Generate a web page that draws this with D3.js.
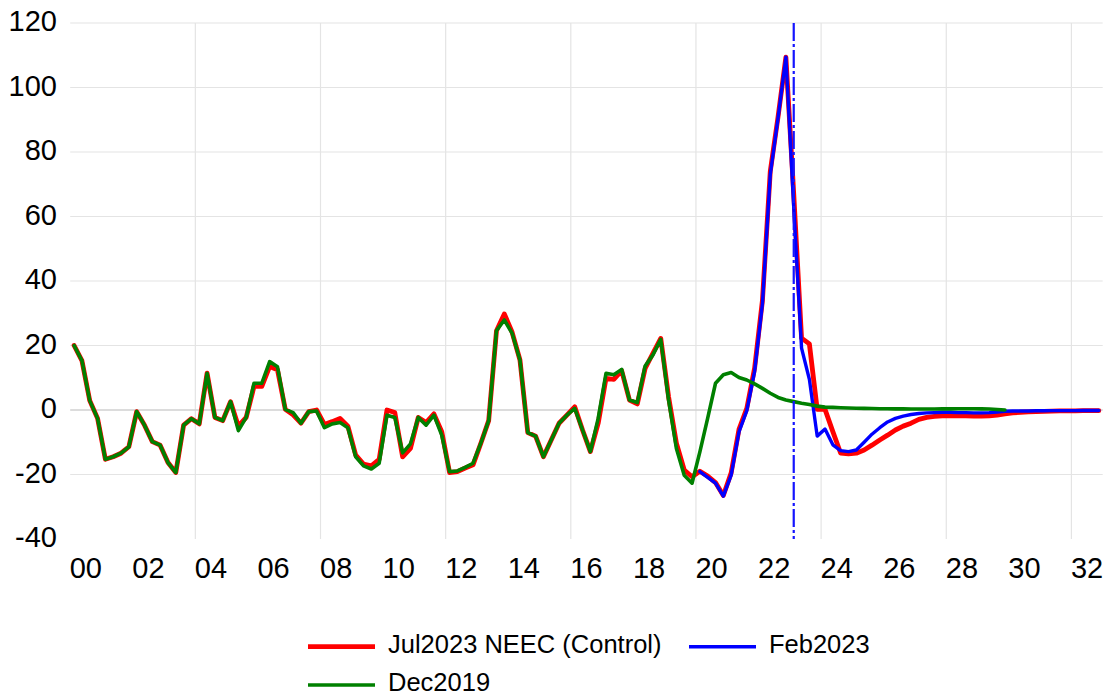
<!DOCTYPE html>
<html>
<head>
<meta charset="utf-8">
<script src="https://cdn.jsdelivr.net/npm/d3@7"></script>
<style>
  html, body { margin: 0; padding: 0; background: #fff; }
  svg { display: block; font-family: "Liberation Sans", Arial, sans-serif; }
</style>
</head>
<body>
<script>
// quarterly categories 2000Q1 .. 2032Q4
const years = d3.range(2000, 2033);
const quarters = years.flatMap(y => [1, 2, 3, 4].map(q => `${y}Q${q}`));

const xTickLabels = ['00', '02', '04', '06', '08', '10', '12', '14', '16',
  '18', '20', '22', '24', '26', '28', '30', '32'];
const yTicks = [-40, -20, 0, 20, 40, 60, 80, 100, 120];
const forecastStart = '2023Q1';

// Jul2023 NEEC (Control), 2000Q1 .. 2032Q4
const control = [
  20, 15.3, 2.9, -2.6, -15.3, -14.5, -13.4, -11.4, -0.5, -4.7,
  -9.8, -10.9, -16.3, -19.4, -4.7, -2.7, -4.3, 11.4, -2.3, -3.3,
  2.6, -5, -2.3, 7.3, 7.3, 13.5, 12.5, 0.2, -1.5, -4.1,
  -0.5, 0, -4.5, -3.6, -2.6, -5, -14, -16.8, -17.3, -15.3,
  0, -0.8, -14.5, -11.9, -2.3, -3.9, -1.2, -6.7, -19.4, -19.1,
  -18, -17, -10.3, -3.3, 24.6, 29.8, 24.1, 15.5, -7.0, -8.1,
  -14.5, -9.3, -4.1, -1.6, 1.0, -6.2, -12.9, -4.1, 9.8, 9.5,
  12.2, 3.1, 1.9, 12.9, 17.6, 22.2, 4.1, -10.3, -18.6, -20.7,
  -19, -20.5, -22.5, -26.5, -19.5, -6, 0.5, 13, 34, 74,
  91, 109.4, 67, 22.3, 20.5, 0.2, 0.2, -6.7, -13.4, -13.6,
  -13.4, -12.4, -10.9, -9.3, -7.8, -6.2, -5.0, -4.1, -2.9, -2.3,
  -2.0, -1.8, -1.8, -1.8, -1.8, -1.9, -1.9, -1.8, -1.6, -1.2,
  -0.9, -0.7, -0.6, -0.5, -0.4, -0.35, -0.3, -0.3, -0.25, -0.2,
  -0.2, -0.2
];

// Feb2023, starts 2020Q1
const feb2023Start = '2020Q1';
const feb2023 = [
  -19.1, -20.9, -22.7, -26.7, -20.2, -6.8, -0.2, 12, 33, 73,
  90.6, 109.4, 63, 19.2, 9.5, -8.1, -5.9, -10.8, -12.6, -12.9,
  -12.4, -10, -7.5, -5.5, -3.7, -2.6, -1.9, -1.4, -1.1, -0.9,
  -0.8, -0.7, -0.7, -0.8, -0.8, -0.9, -0.9, -0.8, -0.6, -0.4,
  -0.3, -0.3, -0.3, -0.25, -0.25, -0.2, -0.2, -0.2, -0.2, -0.15,
  -0.15, -0.15
];

// Dec2019, 2000Q1 .. 2029Q4
const dec2019 = [
  20, 15.3, 2.9, -2.6, -15.3, -14.5, -13.4, -11.4, -0.5, -4.7,
  -9.8, -10.9, -16.3, -19.4, -4.7, -2.7, -4.3, 11.4, -2.3, -3.3,
  2.6, -6.4, -2.3, 8.3, 8.3, 15.0, 13.4, 0.2, -0.8, -4.1,
  -0.5, -0.3, -5.5, -4.3, -3.9, -5.5, -14.5, -17.3, -18.3, -16.5,
  -1.6, -2.3, -13.3, -10.5, -2.3, -4.7, -1.6, -7.8, -19.1, -18.9,
  -17.8, -16.5, -10.3, -3.3, 24.6, 27.9, 23.8, 15.5, -7.0, -8.1,
  -14.5, -9.3, -4.1, -1.6, 0.5, -6.2, -12.9, -2.6, 11.4, 10.9,
  12.6, 3.1, 2.3, 13.6, 17.1, 21.9, 3.1, -11.9, -20.2, -22.7,
  -13, -2.5, 8.3, 10.9, 11.6, 10.1, 9.3, 8.1, 6.7, 5.2,
  3.9, 3.1, 2.6, 2.1, 1.7, 1.2, 0.9, 0.8, 0.7, 0.6,
  0.55, 0.5, 0.45, 0.4, 0.4, 0.35, 0.35, 0.3, 0.3, 0.3,
  0.3, 0.35, 0.35, 0.4, 0.4, 0.4, 0.35, 0.3, 0.15, 0.0
];

const W = 1110, H = 698;
const plot = { left: 70.2, right: 1102.7, top: 23, bottom: 539 };

const svg = d3.select('body').append('svg')
  .attr('width', W).attr('height', H)
  .attr('viewBox', `0 0 ${W} ${H}`);
svg.append('rect').attr('width', W).attr('height', H).attr('fill', '#ffffff');

const x = d3.scaleBand().domain(quarters).range([plot.left, plot.right]).padding(0);
const y = d3.scaleLinear().domain([-40, 120]).range([plot.bottom, plot.top]);
const step = x.step();
const cx = c => x(c) + step / 2;

// horizontal gridlines
svg.append('g').selectAll('line')
  .data(yTicks.filter(v => v > -40 && v !== 0))
  .join('line')
  .attr('x1', plot.left).attr('x2', plot.right)
  .attr('y1', d => y(d)).attr('y2', d => y(d))
  .attr('stroke', '#e4e4e4').attr('stroke-width', 1.2);

// vertical gridlines every 16 quarters
const vGrid = quarters.filter((q, i) => i > 0 && i % 16 === 0);
svg.append('g').selectAll('line')
  .data(vGrid)
  .join('line')
  .attr('x1', d => x(d)).attr('x2', d => x(d))
  .attr('y1', plot.top).attr('y2', plot.bottom)
  .attr('stroke', '#e4e4e4').attr('stroke-width', 1.2);

// zero axis line
svg.append('line')
  .attr('x1', plot.left).attr('x2', plot.right)
  .attr('y1', y(0)).attr('y2', y(0))
  .attr('stroke', '#d0d0d0').attr('stroke-width', 1.6);

// y tick labels
svg.append('g').selectAll('text')
  .data(yTicks)
  .join('text')
  .attr('x', 57).attr('y', d => y(d) - 2)
  .attr('dy', '0.36em')
  .attr('text-anchor', 'end')
  .attr('font-size', 29).attr('fill', '#000')
  .text(d => d);

// x tick labels, one per 8 quarters
svg.append('g').selectAll('text')
  .data(xTickLabels)
  .join('text')
  .attr('x', (d, j) => x(quarters[j * 8]) + 2 * step)
  .attr('y', 578)
  .attr('text-anchor', 'middle')
  .attr('font-size', 29).attr('fill', '#000')
  .text(d => d);

function seriesPoints(values, start) {
  const i0 = quarters.indexOf(start);
  return values.map((v, k) => ({ q: quarters[i0 + k], v }));
}

const line = d3.line().x(d => cx(d.q)).y(d => y(d.v));

const series = [
  { name: 'Jul2023 NEEC (Control)', pts: seriesPoints(control, '2000Q1'), color: '#ff0000', width: 4.8 },
  { name: 'Feb2023', pts: seriesPoints(feb2023, feb2023Start), color: '#0000ff', width: 3.4 },
  { name: 'Dec2019', pts: seriesPoints(dec2019, '2000Q1'), color: '#008000', width: 3.6 }
];

svg.append('g').selectAll('path')
  .data(series)
  .join('path')
  .attr('d', d => line(d.pts))
  .attr('fill', 'none')
  .attr('stroke', d => d.color)
  .attr('stroke-width', d => d.width)
  .attr('stroke-linejoin', 'round')
  .attr('stroke-linecap', 'round');

// forecast start marker
svg.append('line')
  .attr('x1', cx(forecastStart)).attr('x2', cx(forecastStart))
  .attr('y1', plot.top).attr('y2', plot.bottom)
  .attr('stroke', '#1414ff').attr('stroke-width', 2.2)
  .attr('stroke-dasharray', '18,3,3,3');

// legend
const legend = [
  { s: series[0], lx: 308, ly: 646.7, base: 653.3 },
  { s: series[1], lx: 689, ly: 646.7, base: 653.3 },
  { s: series[2], lx: 308, ly: 685, base: 691 }
];
const lg = svg.append('g').selectAll('g').data(legend).join('g');
lg.append('line')
  .attr('x1', d => d.lx).attr('x2', d => d.lx + 67)
  .attr('y1', d => d.ly).attr('y2', d => d.ly)
  .attr('stroke', d => d.s.color)
  .attr('stroke-width', d => d.s.width);
lg.append('text')
  .attr('x', d => d.lx + 80).attr('y', d => d.base)
  .attr('font-size', 25.5).attr('fill', '#000')
  .text(d => d.s.name);
</script>
</body>
</html>
